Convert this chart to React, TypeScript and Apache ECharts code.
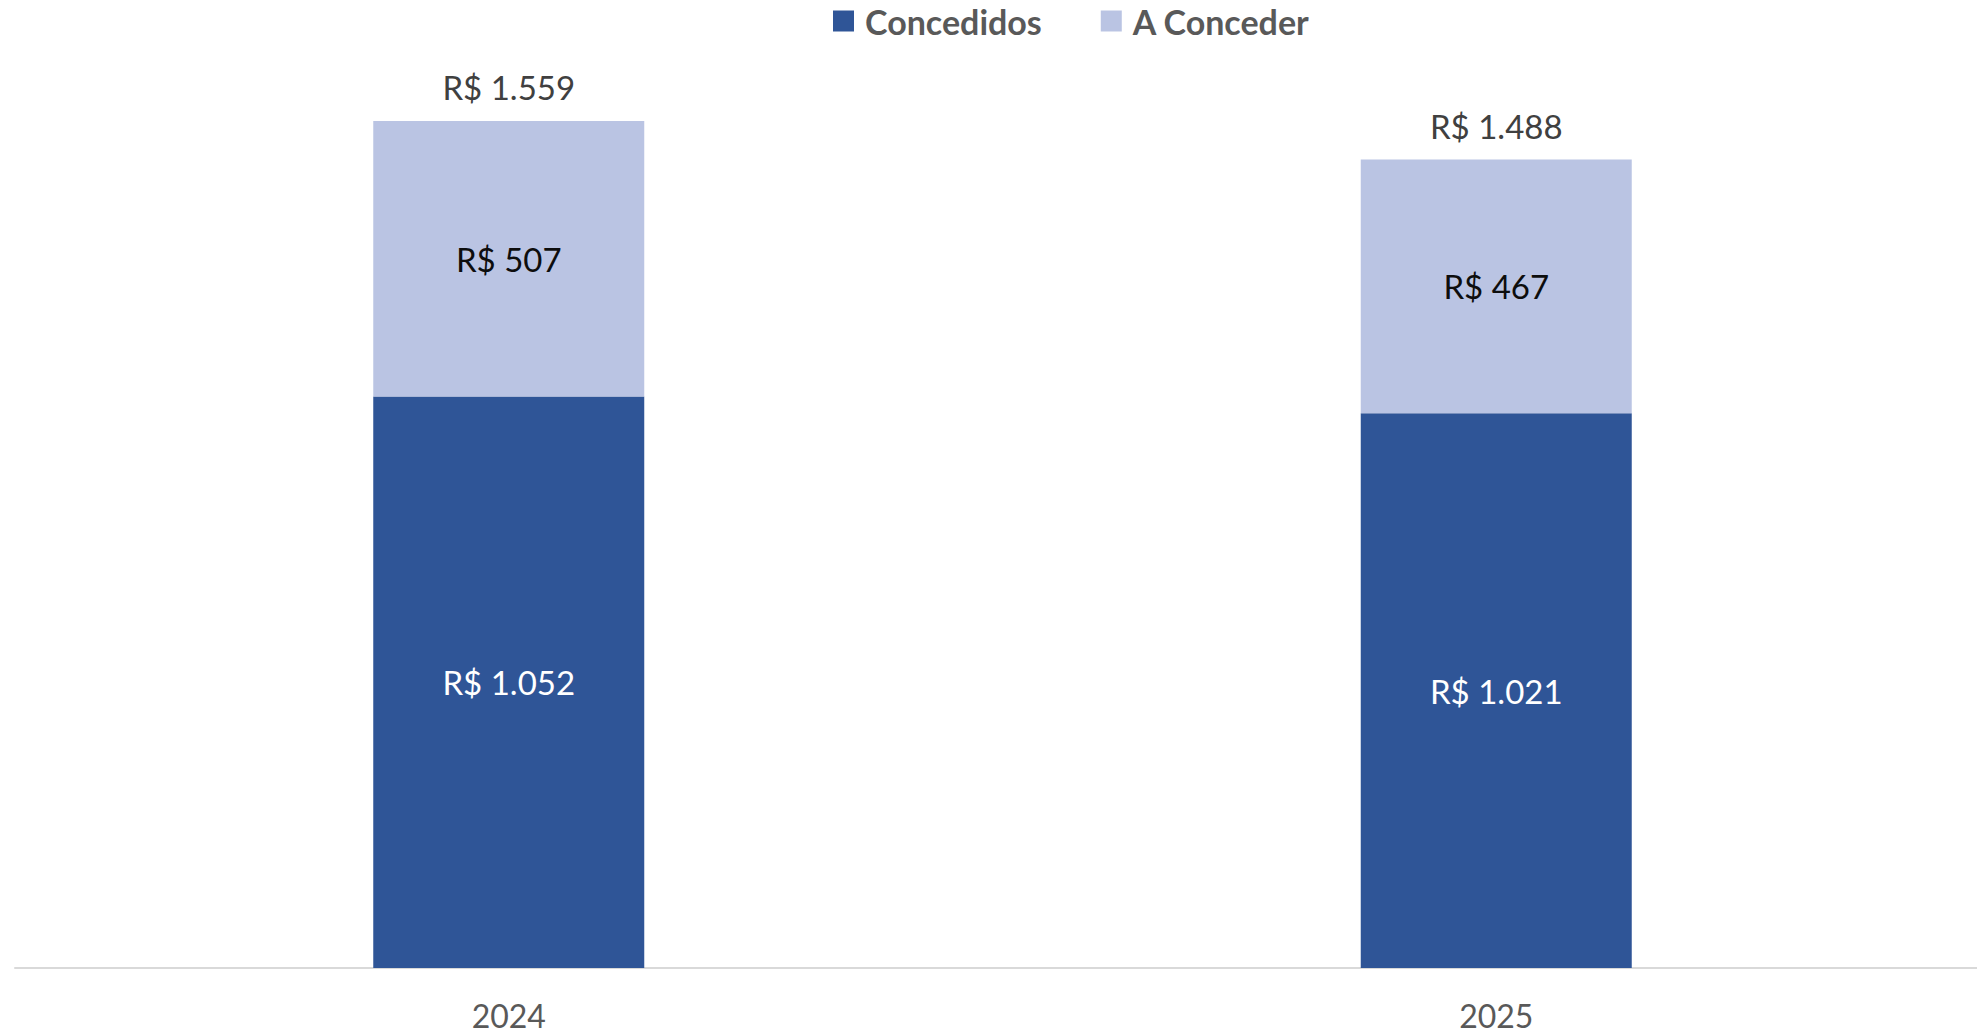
import React, { useEffect, useRef } from "react";
import * as echarts from "echarts";

const categories = ["2024", "2025"];
const concedidos = [1052, 1021];
const aConceder = [507, 467];
const totals = [1559, 1488];
const seriesNames = ["Concedidos", "A Conceder"];

const fmt = (v: number) => "R$ " + Math.round(v).toString().replace(/\B(?=(\d{3})+(?!\d))/g, ".");

const FONT = "Lato";

export default function App() {
  const ref = useRef<HTMLDivElement>(null);
  useEffect(() => {
    const chart = echarts.init(ref.current!, undefined, { renderer: "svg" });
    chart.setOption({
      animation: false,
      backgroundColor: "#ffffff",
      textStyle: { fontFamily: FONT },
      legend: {
        data: seriesNames,
        left: 833,
        top: 4,
        padding: 0,
        itemWidth: 21,
        itemHeight: 21,
        itemGap: 59,
        icon: "rect",
        textStyle: { fontFamily: FONT, fontSize: 34, fontWeight: "bold", color: "#595959", padding: [0, 0, 0, 6] },
      },
      grid: { left: 15, right: 0, top: 98.7, bottom: 65, containLabel: false },
      xAxis: {
        type: "category",
        data: categories,
        axisLine: { show: true, lineStyle: { color: "#D9D9D9", width: 2 } },
        axisTick: { show: false },
        axisLabel: { color: "#595959", fontSize: 32, fontFamily: FONT, margin: 31 },
      },
      yAxis: {
        type: "value",
        min: 0,
        max: 1600,
        show: false,
        splitLine: { show: false },
      },
      series: [
        {
          name: seriesNames[0],
          type: "bar",
          stack: "total",
          barWidth: 271,
          data: concedidos,
          itemStyle: { color: "#2F5597" },
          label: {
            show: true,
            position: "inside",
            color: "#ffffff",
            fontSize: 33,
            fontFamily: FONT,
            formatter: (p: any) => fmt(p.value),
          },
        },
        {
          name: seriesNames[1],
          type: "bar",
          stack: "total",
          barWidth: 271,
          data: aConceder,
          itemStyle: { color: "#BAC4E3" },
          label: {
            show: true,
            position: "inside",
            color: "#0d0d0d",
            fontSize: 33,
            fontFamily: FONT,
            formatter: (p: any) => fmt(p.value),
          },
        },
        {
          name: "Total",
          type: "bar",
          stack: "total",
          barWidth: 271,
          data: totals.map(() => 0),
          itemStyle: { color: "transparent" },
          label: {
            show: true,
            position: "top",
            distance: 17,
            color: "#404040",
            fontSize: 33,
            fontFamily: FONT,
            formatter: (p: any) => fmt(totals[p.dataIndex]),
          },
        },
      ],
    });
    return () => chart.dispose();
  }, []);
  return (
    <div style={{ position: "fixed", left: 0, top: 0, width: 1977, height: 1033, overflow: "hidden", background: "#fff" }}>
      <div ref={ref} style={{ position: "absolute", left: 0, top: 0, width: 1990, height: 1033 }} />
    </div>
  );
}
